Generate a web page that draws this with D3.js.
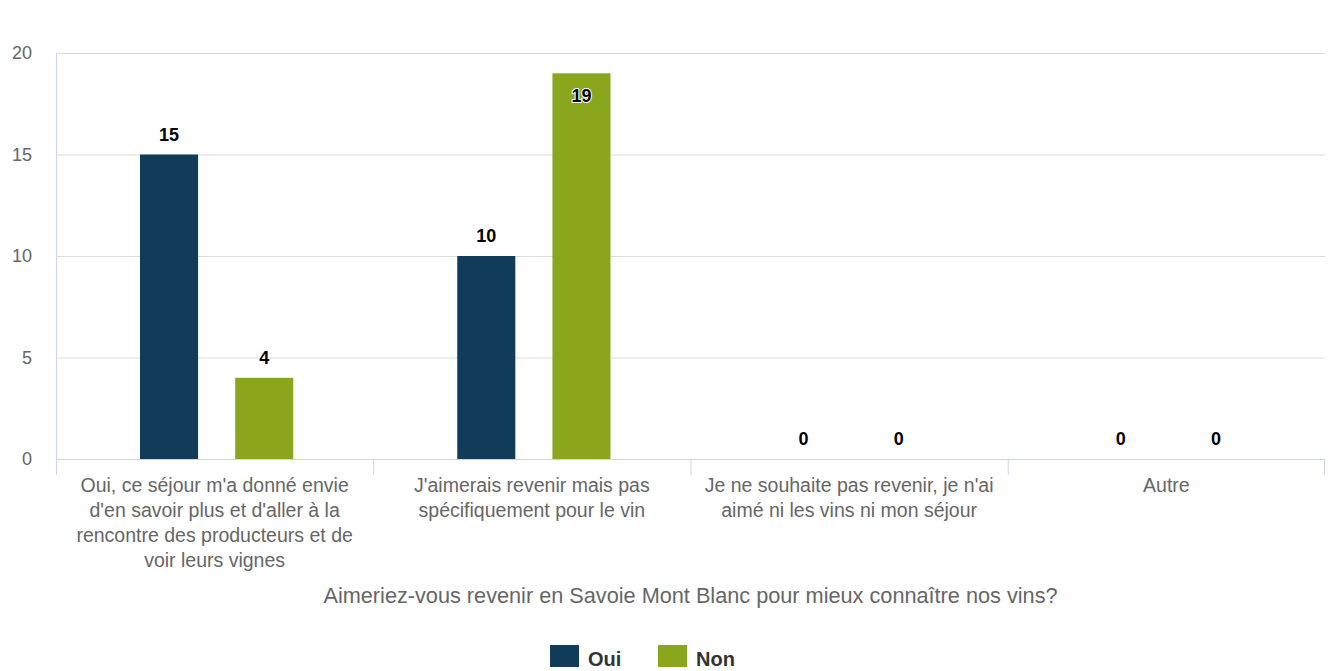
<!DOCTYPE html>
<html>
<head>
<meta charset="utf-8">
<script src="https://cdn.jsdelivr.net/npm/d3@7"></script>
<style>
  body { margin: 0; background: #fff; }
  svg { display: block; font-family: "Liberation Sans", Arial, Helvetica, sans-serif; }
</style>
</head>
<body>
<div id="chart"></div>
<script>
// data
var categories = [
  "Oui, ce séjour m'a donné envie d'en savoir plus et d'aller à la rencontre des producteurs et de voir leurs vignes",
  "J'aimerais revenir mais pas spécifiquement pour le vin",
  "Je ne souhaite pas revenir, je n'ai aimé ni les vins ni mon séjour",
  "Autre"
];
var seriesNames = ['Oui', 'Non'];
var seriesColors = ['#103c59', '#89a61d'];
var ouiValues = [15, 10, 0, 0];
var nonValues = [4, 19, 0, 0];
var yTicks = [0, 5, 10, 15, 20];
var axisTitle = 'Aimeriez-vous revenir en Savoie Mont Blanc pour mieux connaître nos vins?';

var width = 1329, height = 671;
var margin = {top: 53, left: 56, right: 4, bottom: 212};
var plotW = width - margin.left - margin.right;
var plotH = height - margin.top - margin.bottom;

var svg = d3.select('#chart')
  .append('svg')
    .attr('width', width)
    .attr('height', height);

var g = svg.append('g')
  .attr('transform', 'translate(' + margin.left + ',' + margin.top + ')');

var x0 = d3.scaleBand()
  .domain(categories)
  .range([0, plotW])
  .padding(0);

// groupPadding ~0.2 of each band, bars fill ~61% of their slot
var x1 = d3.scaleBand()
  .domain(seriesNames)
  .range([x0.bandwidth() * 0.2 + 2, x0.bandwidth() * 0.8 + 2])
  .paddingInner(0.39)
  .paddingOuter(0.195);

var y = d3.scaleLinear()
  .domain([0, 20])
  .range([plotH, 0]);

// gridlines
g.selectAll('line.grid')
  .data(yTicks.filter(function(d){ return d > 0; }))
  .enter().append('line')
    .attr('class', 'grid')
    .attr('x1', 0).attr('x2', plotW)
    .attr('y1', function(d){ return y(d) + 0.5; })
    .attr('y2', function(d){ return y(d) + 0.5; })
    .style('stroke', '#dcdcdc')
    .style('stroke-width', 1);

// y axis labels
g.selectAll('text.ylab')
  .data(yTicks)
  .enter().append('text')
    .attr('class', 'ylab')
    .attr('x', -24)
    .attr('y', function(d){ return y(d) + 6; })
    .attr('text-anchor', 'end')
    .style('font-size', '18px')
    .style('fill', '#666')
    .text(function(d){ return d; });

// y axis line
g.append('line')
  .attr('x1', 0.5).attr('x2', 0.5)
  .attr('y1', 0).attr('y2', plotH + 16)
  .style('stroke', '#ccd6eb');

// x axis line and ticks
g.append('line')
  .attr('x1', 0).attr('x2', plotW)
  .attr('y1', plotH + 0.5).attr('y2', plotH + 0.5)
  .style('stroke', '#ccd6eb');

var tickPos = categories.map(function(c){ return x0(c); }).concat([plotW]);
g.selectAll('line.xtick')
  .data(tickPos)
  .enter().append('line')
    .attr('class', 'xtick')
    .attr('x1', function(d){ return Math.min(d, plotW - 1) + 0.5; })
    .attr('x2', function(d){ return Math.min(d, plotW - 1) + 0.5; })
    .attr('y1', plotH).attr('y2', plotH + 16)
    .style('stroke', '#ccd6eb');

// bars
var rows = categories.map(function(c, i){
  return {cat: c, values: [ouiValues[i], nonValues[i]]};
});

var groups = g.selectAll('g.cat')
  .data(rows)
  .enter().append('g')
    .attr('class', 'cat')
    .attr('transform', function(d){ return 'translate(' + x0(d.cat) + ',0)'; });

groups.selectAll('rect')
  .data(function(d){ return d.values.map(function(v, i){ return {name: seriesNames[i], value: v, i: i}; }); })
  .enter().append('rect')
    .attr('x', function(d){ return x1(d.name); })
    .attr('width', x1.bandwidth())
    .attr('y', function(d){ return y(d.value); })
    .attr('height', function(d){ return plotH - y(d.value); })
    .style('fill', function(d){ return seriesColors[d.i]; });

// data labels (go inside the bar when there is no room above)
groups.selectAll('text.dl')
  .data(function(d){ return d.values.map(function(v, i){ return {name: seriesNames[i], value: v}; }); })
  .enter().append('text')
    .attr('class', 'dl')
    .attr('x', function(d){ return x1(d.name) + x1.bandwidth() / 2; })
    .attr('y', function(d){
      var top = y(d.value);
      if (top - 32 < 0) return top + 29;
      return top - 14;
    })
    .attr('text-anchor', 'middle')
    .style('font-size', '18px')
    .style('font-weight', 'bold')
    .style('fill', '#000')
    .style('stroke', '#fff')
    .style('stroke-width', 2)
    .style('stroke-linejoin', 'round')
    .style('paint-order', 'stroke')
    .text(function(d){ return d.value; });

// category labels, wrapped inside the band
function wrap(text, w) {
  text.each(function(){
    var t = d3.select(this);
    var words = t.text().split(/\s+/);
    var line = [];
    var cx = t.attr('x');
    t.text(null);
    var tspan = t.append('tspan').attr('x', cx).attr('dy', 0);
    words.forEach(function(word){
      line.push(word);
      tspan.text(line.join(' '));
      if (tspan.node().getComputedTextLength() > w && line.length > 1) {
        line.pop();
        tspan.text(line.join(' '));
        line = [word];
        tspan = t.append('tspan').attr('x', cx).attr('dy', 25).text(word);
      }
    });
  });
}

g.selectAll('text.xlab')
  .data(categories)
  .enter().append('text')
    .attr('class', 'xlab')
    .attr('x', function(d){ return x0(d) + x0.bandwidth() / 2; })
    .attr('y', plotH + 33)
    .attr('text-anchor', 'middle')
    .style('font-size', '19.5px')
    .style('fill', '#666')
    .text(function(d){ return d; })
    .call(wrap, 290);

// axis title
g.append('text')
  .attr('x', plotW / 2)
  .attr('y', plotH + 144)
  .attr('text-anchor', 'middle')
  .style('font-size', '21.7px')
  .style('fill', '#666')
  .text(axisTitle);

// legend
var legend = svg.append('g')
  .attr('transform', 'translate(550,645)');

var legendItems = legend.selectAll('g.item')
  .data(seriesNames)
  .enter().append('g')
    .attr('class', 'item')
    .attr('transform', function(d, i){ return 'translate(' + (i * 108) + ',0)'; });

legendItems.append('rect')
  .attr('width', 29)
  .attr('height', 22)
  .style('fill', function(d, i){ return seriesColors[i]; });

legendItems.append('text')
  .attr('x', 38)
  .attr('y', 21)
  .style('font-size', '20px')
  .style('font-weight', 'bold')
  .style('fill', '#333')
  .text(function(d){ return d; });
</script>
</body>
</html>
